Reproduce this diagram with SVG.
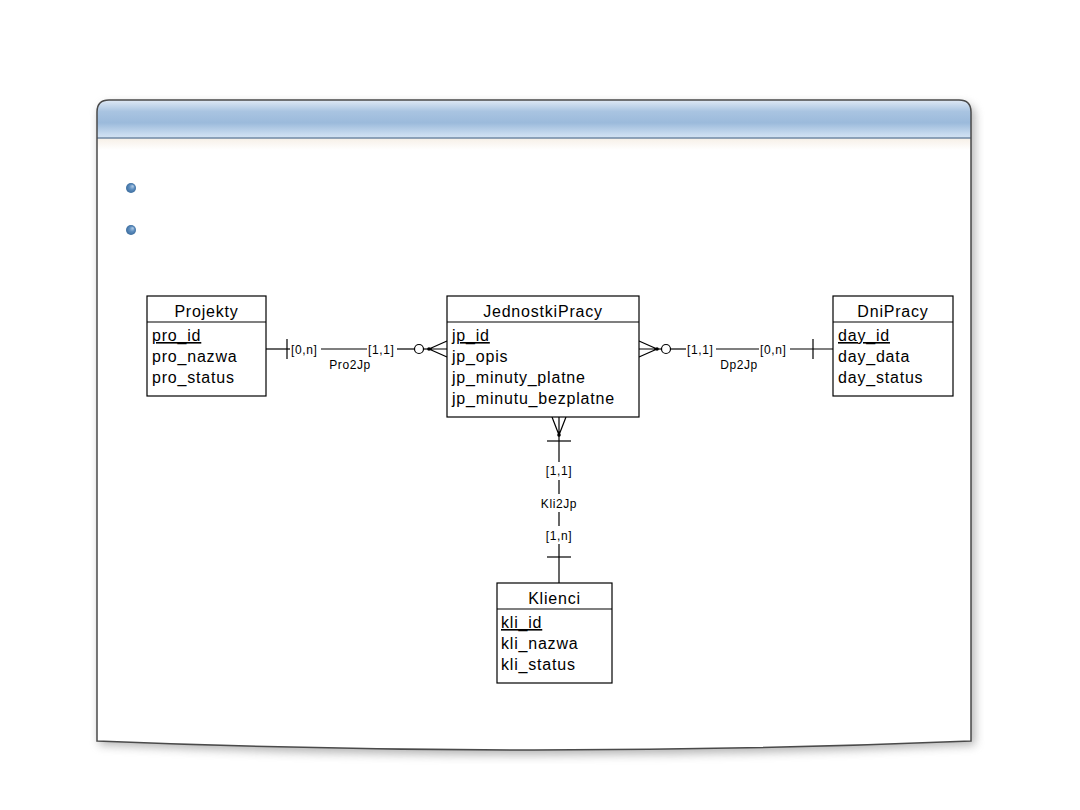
<svg xmlns="http://www.w3.org/2000/svg" width="1080" height="810" viewBox="0 0 1080 810">
<style>
.ent{fill:#fff;stroke:#000;stroke-width:1.2}
.sep{stroke:#000;stroke-width:1.2}
.t{font-family:"Liberation Sans",Arial,sans-serif;font-size:16px;letter-spacing:0.8px;fill:#000}
.tt{text-anchor:middle}
.pk{text-decoration:underline}
.c{stroke:#000;stroke-width:1.2;fill:none}
.lb{font-family:"Liberation Sans",Arial,sans-serif;font-size:12px;letter-spacing:0.6px;fill:#000}
.mid{text-anchor:middle}
.circ{fill:#fff;stroke:#000;stroke-width:1.2}
</style>
<defs>
<linearGradient id="hdr" x1="0" y1="0" x2="0" y2="1">
<stop offset="0" stop-color="#dfe9f5"/>
<stop offset="0.3" stop-color="#a9c4e1"/>
<stop offset="0.6" stop-color="#9bbadb"/>
<stop offset="0.9" stop-color="#c8dbef"/>
<stop offset="1" stop-color="#d3e2f2"/>
</linearGradient>
<linearGradient id="under" x1="0" y1="0" x2="0" y2="1">
<stop offset="0" stop-color="#f6efe6"/>
<stop offset="1" stop-color="#ffffff"/>
</linearGradient>
<radialGradient id="bul" cx="0.5" cy="0.5" r="0.5" fx="0.7" fy="0.3">
<stop offset="0" stop-color="#b9d0e8"/>
<stop offset="0.5" stop-color="#5f8fc0"/>
<stop offset="1" stop-color="#3c6d9e"/>
</radialGradient>
<clipPath id="fclip"><path d="M97,112 Q97,100 109,100 L959,100 Q971,100 971,112 L971,741 Q534,759 97,741 Z"/></clipPath>
<filter id="blur" x="-10%" y="-10%" width="120%" height="130%"><feGaussianBlur stdDeviation="5"/></filter>
</defs>
<g id="frame">
<path d="M99,116 Q99,104 111,104 L961,104 Q975,104 975,116 L975,745 Q534,765 99,745 Z" fill="#7a7a7a" opacity="0.55" filter="url(#blur)"/>
<path d="M97,112 Q97,100 109,100 L959,100 Q971,100 971,112 L971,741 Q534,759 97,741 Z" fill="#fff"/>
<g clip-path="url(#fclip)">
<rect x="97" y="100" width="874" height="38" fill="url(#hdr)"/>
<rect x="97" y="138" width="874" height="12" fill="url(#under)"/>
</g>
<line x1="97" y1="138" x2="971" y2="138" stroke="#6f88a4" stroke-width="1.5"/>
<path d="M97,112 Q97,100 109,100 L959,100 Q971,100 971,112 L971,741 Q534,759 97,741 Z" fill="none" stroke="#4a4a4a" stroke-width="1.5"/>
<circle cx="131" cy="188" r="5" fill="url(#bul)"/>
<circle cx="131" cy="230" r="5" fill="url(#bul)"/>
</g>
<g id="connectors">
<g id="Pro2Jp">
<line class="c" x1="266" y1="349" x2="290" y2="349"/>
<line class="c" x1="287" y1="339" x2="287" y2="359"/>
<text class="lb" x="291" y="353.5">[0,n]</text>
<line class="c" x1="321" y1="349" x2="367" y2="349"/>
<text class="lb" x="368" y="353.5">[1,1]</text>
<line class="c" x1="397" y1="349" x2="414.5" y2="349"/>
<circle class="circ" cx="419" cy="349" r="4.5"/>
<line class="c" x1="423.5" y1="349" x2="429" y2="349"/>
<path class="c" d="M447,341 L429,349 L447,357 M429,349 L447,349"/>
<circle cx="429" cy="349" r="1.8" fill="#000"/>
<text class="lb mid" x="350" y="369">Pro2Jp</text>
</g>
<g id="Dp2Jp">
<path class="c" d="M639,341 L657,349 L639,357 M657,349 L639,349"/>
<circle cx="657" cy="349" r="1.8" fill="#000"/>
<line class="c" x1="657" y1="349" x2="661.5" y2="349"/>
<circle class="circ" cx="666" cy="349" r="4.5"/>
<line class="c" x1="670.5" y1="349" x2="686" y2="349"/>
<text class="lb" x="687" y="353.5">[1,1]</text>
<line class="c" x1="716" y1="349" x2="759" y2="349"/>
<text class="lb" x="760" y="353.5">[0,n]</text>
<line class="c" x1="790" y1="349" x2="833" y2="349"/>
<line class="c" x1="813" y1="339" x2="813" y2="359"/>
<text class="lb mid" x="739" y="369">Dp2Jp</text>
</g>
<g id="Kli2Jp">
<path class="c" d="M552,417 L559,435 L566,417 M559,417 L559,435"/>
<circle cx="559" cy="435" r="1.8" fill="#000"/>
<line class="c" x1="559" y1="435" x2="559" y2="462"/>
<line class="c" x1="547" y1="441" x2="571" y2="441"/>
<text class="lb mid" x="559" y="475">[1,1]</text>
<line class="c" x1="559" y1="480" x2="559" y2="494"/>
<text class="lb mid" x="559" y="508">Kli2Jp</text>
<line class="c" x1="559" y1="512" x2="559" y2="526"/>
<text class="lb mid" x="559" y="540">[1,n]</text>
<line class="c" x1="559" y1="544" x2="559" y2="583"/>
<line class="c" x1="547" y1="557" x2="571" y2="557"/>
</g>
</g>
<g id="Projekty">
<rect class="ent" x="147" y="296" width="119" height="100"/>
<line class="sep" x1="147" y1="322" x2="266" y2="322"/>
<text class="t tt" x="206.5" y="317">Projekty</text>
<text class="t pk" x="152" y="341">pro_id</text>
<text class="t" x="152" y="362">pro_nazwa</text>
<text class="t" x="152" y="383">pro_status</text>
</g>
<g id="JednostkiPracy">
<rect class="ent" x="447" y="296" width="192" height="121"/>
<line class="sep" x1="447" y1="322" x2="639" y2="322"/>
<text class="t tt" x="543" y="317">JednostkiPracy</text>
<text class="t pk" x="452" y="341">jp_id</text>
<text class="t" x="452" y="362">jp_opis</text>
<text class="t" x="452" y="383">jp_minuty_platne</text>
<text class="t" x="452" y="404">jp_minutu_bezplatne</text>
</g>
<g id="DniPracy">
<rect class="ent" x="833" y="296" width="120" height="100"/>
<line class="sep" x1="833" y1="322" x2="953" y2="322"/>
<text class="t tt" x="893" y="317">DniPracy</text>
<text class="t pk" x="838" y="341">day_id</text>
<text class="t" x="838" y="362">day_data</text>
<text class="t" x="838" y="383">day_status</text>
</g>
<g id="Klienci">
<rect class="ent" x="497" y="583" width="115" height="100"/>
<line class="sep" x1="497" y1="609" x2="612" y2="609"/>
<text class="t tt" x="554.5" y="604">Klienci</text>
<text class="t pk" x="501" y="628">kli_id</text>
<text class="t" x="501" y="649">kli_nazwa</text>
<text class="t" x="501" y="670">kli_status</text>
</g>
</svg>
